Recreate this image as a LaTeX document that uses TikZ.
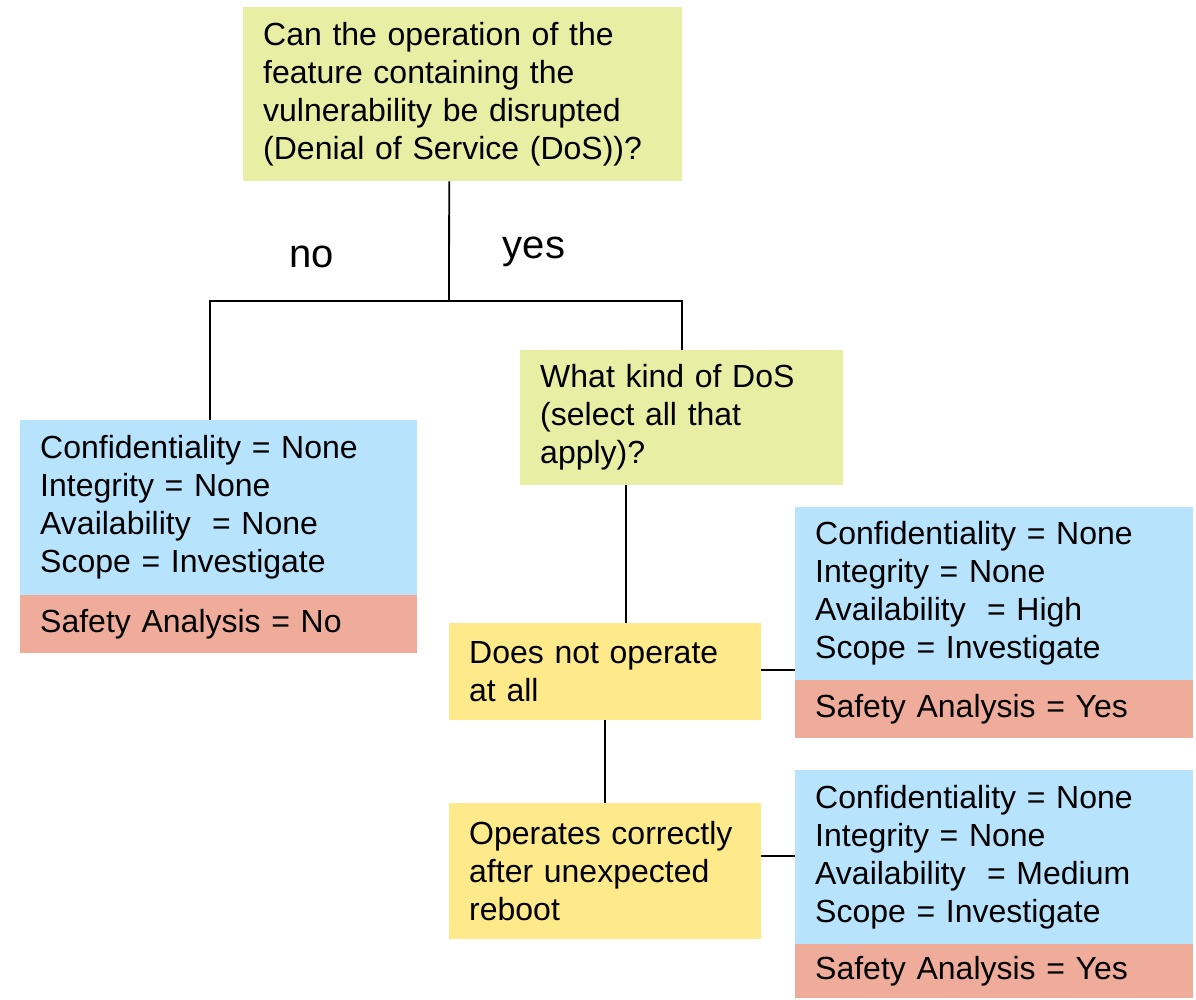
\documentclass[tikz,border=0pt]{standalone}
\usepackage{fontspec}
\setmainfont{Liberation Sans}
\definecolor{qcol}{RGB}{233,238,165}
\definecolor{ycol}{RGB}{254,234,138}
\definecolor{bcol}{RGB}{183,227,252}
\definecolor{rcol}{RGB}{240,172,155}
\begin{document}
\begin{tikzpicture}[x=1pt,y=-1pt,
  card/.style={rectangle, anchor=north west, inner xsep=20pt, inner ysep=0pt, align=left,
     font=\fontsize{32}{38}\selectfont},
  qbox/.style={card, fill=qcol},
  ybox/.style={card, fill=ycol},
  bbox/.style={card, fill=bcol},
  rbox/.style={card, fill=rcol},
  conn/.style={draw=black, line width=1.8pt},
  lbl/.style={font=\fontsize{40}{44}\selectfont, inner sep=0pt}]
\useasboundingbox (0,0) rectangle (1196,999);

\node[qbox, minimum width=439pt, minimum height=174pt, text width=399pt] (q1) at (243,7)
  {Can the operation of the\\feature containing the\\vulnerability be disrupted\\(Denial of Service (DoS))?};

\node[bbox, minimum width=397pt, minimum height=175pt, text width=357pt] (b0) at (20,420)
  {Confidentiality = None\\Integrity = None\\Availability\ \ = None\\Scope = Investigate};
\node[rbox, minimum width=397pt, minimum height=58pt, text width=357pt] (r0) at (20,595)
  {Safety Analysis = No};

\node[qbox, minimum width=323pt, minimum height=135pt, text width=283pt] (q2) at (520,350)
  {What kind of DoS\\(select all that\\apply)?};

\node[ybox, minimum width=312pt, minimum height=97pt, text width=272pt] (y1) at (449,623)
  {Does not operate\\at all};
\node[ybox, minimum width=312pt, minimum height=136pt, text width=272pt] (y2) at (449,803)
  {Operates correctly\\after unexpected\\reboot};

\node[bbox, minimum width=398pt, minimum height=173pt, text width=358pt] (b1) at (795,507)
  {Confidentiality = None\\Integrity = None\\Availability\ \ = High\\Scope = Investigate};
\node[rbox, minimum width=398pt, minimum height=58pt, text width=358pt] (r1) at (795,680)
  {Safety Analysis = Yes};

\node[bbox, minimum width=398pt, minimum height=174pt, text width=358pt] (b2) at (795,770)
  {Confidentiality = None\\Integrity = None\\Availability\ \ = Medium\\Scope = Investigate};
\node[rbox, minimum width=398pt, minimum height=54pt, text width=358pt] (r2) at (795,944)
  {Safety Analysis = Yes};

\node[lbl] (no) at (312,257) {no};
\node[lbl] (yes) at (534,252) {yes};

\coordinate (j) at (449,301);
\draw[conn] ([xshift=-13.5pt]q1.south) -- (j);
\draw[conn] ([xshift=-8.5pt]b0.north) |- (j) -| (q2.north);
\draw[conn] ([xshift=-55.5pt]q2.south) -- ([xshift=21pt]y1.north);
\draw[conn] (y1.south) -- (y2.north);
\draw[conn] ([yshift=2pt]y1.east) -- ([yshift=2pt]y1.east -| b1.west);
\draw[conn] ([yshift=15pt]y2.east) -- ([yshift=15pt]y2.east -| b2.west);
\end{tikzpicture}
\end{document}
